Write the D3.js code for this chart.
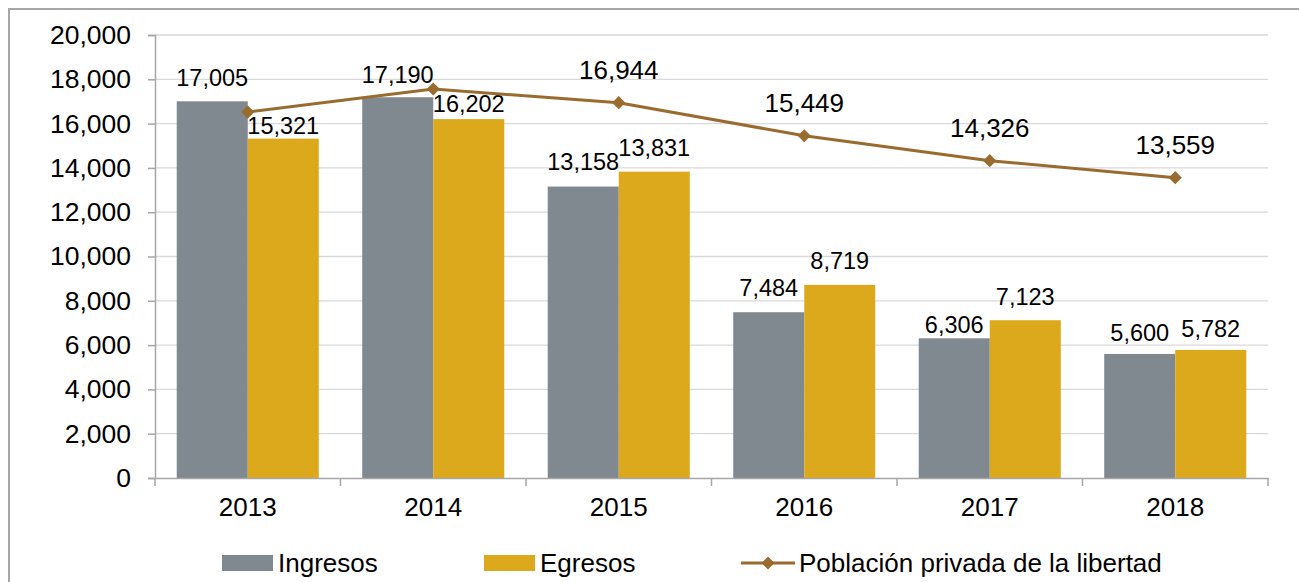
<!DOCTYPE html>
<html>
<head>
<meta charset="utf-8">
<script src="https://cdn.jsdelivr.net/npm/d3@7"></script>
<style>
  body { margin: 0; background: #fff; }
  svg { display: block; font-family: "Liberation Sans", Arial, sans-serif; }
</style>
</head>
<body>
<div id="chart"></div>
<script>
// data
var years = ["2013", "2014", "2015", "2016", "2017", "2018"];
var ingresos = [17005, 17190, 13158, 7484, 6306, 5600];
var egresos = [15321, 16202, 13831, 8719, 7123, 5782];
var poblacion = [16520, 17560, 16944, 15449, 14326, 13559];
var poblacionShown = [false, false, true, true, true, true];
var yTicks = [0, 2000, 4000, 6000, 8000, 10000, 12000, 14000, 16000, 18000, 20000];
var seriesNames = ["Ingresos", "Egresos", "Población privada de la libertad"];

// small per-label nudges (px) so labels sit like the original
var liftIng = [23, 22, 25, 24, 13, 21];
var liftEgr = [13, 15, 24, 24, 23, 21];

var W = 1299, H = 582;
var margin = {left: 155, right: 31, top: 35, bottom: 104};

var svg = d3.select("#chart").append("svg")
  .attr("width", W)
  .attr("height", H);

// outer frame (only the top and left edges are visible)
svg.append("rect")
  .attr("x", 9).attr("y", 9)
  .attr("width", W + 20).attr("height", H + 20)
  .attr("fill", "none")
  .attr("stroke", "#a6a6a6")
  .attr("stroke-width", 2);

var x0 = d3.scaleBand().domain(years).range([margin.left, W - margin.right]);
var x1 = d3.scaleBand().domain(["ing", "egr"]).range([0, x0.bandwidth()]).paddingOuter(0.306);
var y = d3.scaleLinear().domain([0, 20000]).range([H - margin.bottom, margin.top]);

var fmt = d3.format(",");
var colGray = "#7f898f", colGold = "#dba91b", colLine = "#9a6b2f";

// gridlines
svg.append("g").selectAll("line")
  .data(yTicks.slice(1))
  .enter().append("line")
    .attr("x1", margin.left).attr("x2", W - margin.right)
    .attr("y1", function(d) { return y(d); })
    .attr("y2", function(d) { return y(d); })
    .attr("stroke", "#d9d9d9")
    .attr("stroke-width", 1.3);

// y axis
var yAxis = svg.append("g")
  .attr("transform", "translate(" + margin.left + ",0)")
  .call(d3.axisLeft(y).tickValues(yTicks).tickFormat(fmt).tickSize(7).tickPadding(17));
yAxis.select(".domain").attr("stroke", "#a6a6a6").attr("stroke-width", 1.5);
yAxis.selectAll(".tick line").attr("stroke", "#a6a6a6").attr("stroke-width", 1.5);
yAxis.selectAll("text").attr("font-size", 26.5).attr("fill", "#000")
  .attr("font-family", "Liberation Sans, Arial, sans-serif");

// bars
var groups = svg.append("g").selectAll("g")
  .data(years)
  .enter().append("g")
    .attr("transform", function(d) { return "translate(" + x0(d) + ",0)"; });

groups.append("rect")
  .attr("x", x1("ing"))
  .attr("width", x1.bandwidth())
  .attr("y", function(d, i) { return y(ingresos[i]); })
  .attr("height", function(d, i) { return y(0) - y(ingresos[i]); })
  .attr("fill", colGray);

groups.append("rect")
  .attr("x", x1("egr"))
  .attr("width", x1.bandwidth())
  .attr("y", function(d, i) { return y(egresos[i]); })
  .attr("height", function(d, i) { return y(0) - y(egresos[i]); })
  .attr("fill", colGold);

// x axis
var xAxis = svg.append("g")
  .attr("transform", "translate(0," + y(0) + ")")
  .call(d3.axisBottom(x0).tickSize(0).tickPadding(20));
xAxis.select(".domain").attr("stroke", "#a6a6a6").attr("stroke-width", 1.5);
xAxis.selectAll("text").attr("font-size", 26).attr("fill", "#000")
  .attr("font-family", "Liberation Sans, Arial, sans-serif");
// category boundary ticks
xAxis.append("g").selectAll("line")
  .data(years.concat(["end"]))
  .enter().append("line")
    .attr("x1", function(d, i) { return i < years.length ? x0(d) : x0.range()[1]; })
    .attr("x2", function(d, i) { return i < years.length ? x0(d) : x0.range()[1]; })
    .attr("y1", 0).attr("y2", 8)
    .attr("stroke", "#a6a6a6").attr("stroke-width", 1.5);

// bar labels
groups.append("text")
  .attr("x", x1("ing") + x1.bandwidth() / 2)
  .attr("y", function(d, i) { return y(ingresos[i]) - liftIng[i] + 8; })
  .attr("text-anchor", "middle")
  .attr("font-size", 23.5)
  .text(function(d, i) { return fmt(ingresos[i]); });

groups.append("text")
  .attr("x", x1("egr") + x1.bandwidth() / 2)
  .attr("y", function(d, i) { return y(egresos[i]) - liftEgr[i] + 8; })
  .attr("text-anchor", "middle")
  .attr("font-size", 23.5)
  .text(function(d, i) { return fmt(egresos[i]); });

// line
var cx = function(d, i) { return x0(years[i]) + x0.bandwidth() / 2; };
var line = d3.line()
  .x(function(d, i) { return cx(d, i); })
  .y(function(d) { return y(d); });

svg.append("path")
  .datum(poblacion)
  .attr("d", line)
  .attr("fill", "none")
  .attr("stroke", colLine)
  .attr("stroke-width", 3);

var diamond = d3.symbol().type(d3.symbolDiamond2).size(110);
svg.append("g").selectAll("path")
  .data(poblacion)
  .enter().append("path")
    .attr("d", diamond)
    .attr("transform", function(d, i) { return "translate(" + cx(d, i) + "," + y(d) + ")"; })
    .attr("fill", colLine);

svg.append("g").selectAll("text")
  .data(poblacion)
  .enter().append("text")
    .filter(function(d, i) { return poblacionShown[i]; })
    .attr("x", function(d) { return cx(d, poblacion.indexOf(d)); })
    .attr("y", function(d) { return y(d) - 24; })
    .attr("text-anchor", "middle")
    .attr("font-size", 26)
    .text(function(d) { return fmt(d); });

// legend
var ly = 563;
var legend = svg.append("g").attr("font-size", 26);
var items = [
  {x: 222, type: "bar", color: colGray, name: seriesNames[0]},
  {x: 484, type: "bar", color: colGold, name: seriesNames[1]},
  {x: 741, type: "line", color: colLine, name: seriesNames[2]}
];
items.forEach(function(it) {
  if (it.type === "bar") {
    legend.append("rect")
      .attr("x", it.x).attr("y", ly - 8)
      .attr("width", 51).attr("height", 16)
      .attr("fill", it.color);
  } else {
    legend.append("line")
      .attr("x1", it.x).attr("x2", it.x + 54)
      .attr("y1", ly).attr("y2", ly)
      .attr("stroke", it.color).attr("stroke-width", 3);
    legend.append("path")
      .attr("d", diamond)
      .attr("transform", "translate(" + (it.x + 27) + "," + ly + ")")
      .attr("fill", it.color);
  }
  legend.append("text")
    .attr("x", it.x + (it.type === "bar" ? 56 : 58))
    .attr("y", ly + 9)
    .text(it.name);
});
</script>
</body>
</html>
